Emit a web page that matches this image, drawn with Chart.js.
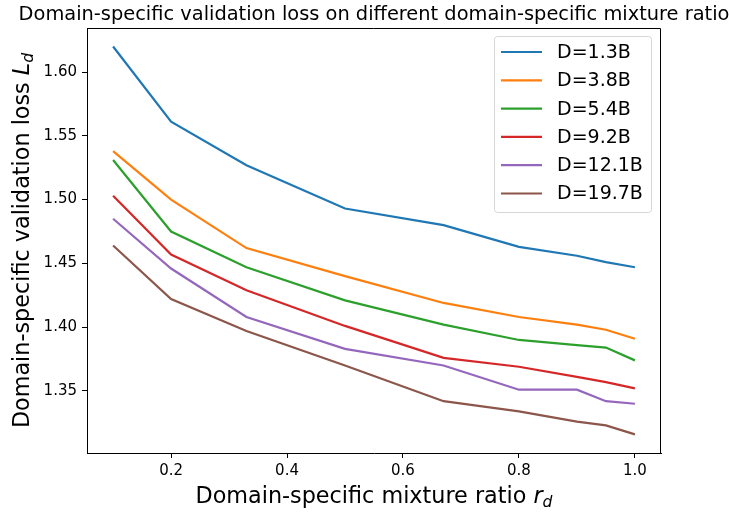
<!DOCTYPE html>
<html>
<head>
<meta charset="utf-8">
<script src="https://cdn.jsdelivr.net/npm/chart.js@4.4.1/dist/chart.umd.min.js"></script>
<style>
  html, body { margin: 0; padding: 0; background: #fff; }
  #wrap { width: 729px; height: 514px; position: relative; }
</style>
</head>
<body>
<div id="wrap"><canvas id="lossChart"></canvas></div>
<script>
// mixture ratios on the x axis
const ratios = [0.1, 0.2, 0.33, 0.5, 0.67, 0.8, 0.9, 0.95, 1.0];

const seriesLabels = ['D=1.3B', 'D=3.8B', 'D=5.4B', 'D=9.2B', 'D=12.1B', 'D=19.7B'];
const seriesColors = ['#1f77b4', '#ff7f0e', '#2ca02c', '#d62728', '#9467bd', '#8c564b'];

// validation loss per token budget
const loss1_3B  = [1.620, 1.561, 1.527, 1.493, 1.480, 1.463, 1.456, 1.451, 1.447];
const loss3_8B  = [1.538, 1.500, 1.462, 1.440, 1.419, 1.408, 1.402, 1.398, 1.391];
const loss5_4B  = [1.531, 1.475, 1.447, 1.421, 1.402, 1.390, 1.386, 1.384, 1.374];
const loss9_2B  = [1.503, 1.457, 1.429, 1.401, 1.376, 1.369, 1.361, 1.357, 1.352];
const loss12_1B = [1.485, 1.446, 1.408, 1.383, 1.370, 1.351, 1.351, 1.342, 1.340];
const loss19_7B = [1.464, 1.422, 1.397, 1.370, 1.342, 1.334, 1.326, 1.323, 1.316];

const xTicks = [0.2, 0.4, 0.6, 0.8, 1.0];
const xTickLabels = ['0.2', '0.4', '0.6', '0.8', '1.0'];
const yTicks = [1.35, 1.40, 1.45, 1.50, 1.55, 1.60];
const yTickLabels = ['1.35', '1.40', '1.45', '1.50', '1.55', '1.60'];

const FONT = '"DejaVu Sans", sans-serif';
const allLoss = [loss1_3B, loss3_8B, loss5_4B, loss9_2B, loss12_1B, loss19_7B];

const datasets = allLoss.map((vals, i) => ({
  label: seriesLabels[i],
  data: ratios.map((r, j) => ({ x: r, y: vals[j] })),
  borderColor: seriesColors[i],
  backgroundColor: seriesColors[i],
  borderWidth: 2.2,
  pointRadius: 0,
  tension: 0,
  fill: false
}));

// draws text pieces (normal / italic / subscript) in one run, centred
function drawParts(ctx, parts, cx, baseY) {
  let total = 0;
  parts.forEach(p => { ctx.font = p.font; total += ctx.measureText(p.text).width; });
  let x = cx - total / 2;
  parts.forEach(p => {
    ctx.font = p.font;
    ctx.fillText(p.text, x, baseY + (p.dy || 0));
    x += ctx.measureText(p.text).width;
  });
}

const decorPlugin = {
  id: 'decor',
  afterDraw(chart) {
    const ctx = chart.ctx;
    const a = chart.chartArea;
    ctx.save();

    // top and right spines (left/bottom come from the axis borders)
    const top = Math.round(a.top) + 0.5;
    const right = Math.round(a.right) - 0.5;
    ctx.strokeStyle = '#000';
    ctx.lineWidth = 1;
    ctx.setLineDash([]);
    ctx.beginPath();
    ctx.moveTo(a.left, top);
    ctx.lineTo(right, top);
    ctx.lineTo(right, a.bottom + 0.5);
    ctx.stroke();

    ctx.fillStyle = '#000';
    ctx.textBaseline = 'alphabetic';
    ctx.textAlign = 'left';

    // title
    drawParts(ctx, [{ text: 'Domain-specific validation loss on different domain-specific mixture ratio', font: '19.4px ' + FONT }],
      (a.left + a.right) / 2, 20);

    // x title
    drawParts(ctx, [
      { text: 'Domain-specific mixture ratio ', font: '22.3px ' + FONT },
      { text: 'r', font: 'italic 22.3px ' + FONT },
      { text: 'd', font: 'italic 15.6px ' + FONT, dy: 4 }
    ], (a.left + a.right) / 2, 503);

    // y title
    ctx.save();
    ctx.translate(29, (a.top + a.bottom) / 2);
    ctx.rotate(-Math.PI / 2);
    drawParts(ctx, [
      { text: 'Domain-specific validation loss ', font: '22.3px ' + FONT },
      { text: 'L', font: 'italic 22.3px ' + FONT },
      { text: 'd', font: 'italic 15.6px ' + FONT, dy: 4 }
    ], 0, 0);
    ctx.restore();

    // legend box
    const lx = 494, ly = 36, lw = 157, lh = 176;
    ctx.beginPath();
    ctx.roundRect(lx + 0.5, ly + 0.5, lw, lh, 3);
    ctx.fillStyle = 'rgba(255,255,255,0.8)';
    ctx.fill();
    ctx.strokeStyle = '#d6d6d6';
    ctx.lineWidth = 1;
    ctx.stroke();

    ctx.font = '19px ' + FONT;
    ctx.textBaseline = 'middle';
    chart.data.datasets.forEach((ds, i) => {
      const y = 52 + i * 28.3;
      ctx.strokeStyle = ds.borderColor;
      ctx.lineWidth = 2.2;
      ctx.beginPath();
      ctx.moveTo(501, y);
      ctx.lineTo(542, y);
      ctx.stroke();
      ctx.fillStyle = '#000';
      ctx.fillText(ds.label, 557, y + 1);
    });
    ctx.restore();
  }
};

new Chart(document.getElementById('lossChart'), {
  type: 'line',
  data: { datasets: datasets },
  plugins: [decorPlugin],
  options: {
    responsive: true,
    maintainAspectRatio: false,
    animation: false,
    layout: { padding: { left: 0, right: 68, top: 28, bottom: 0 } },
    plugins: {
      legend: { display: false },
      title: { display: false },
      tooltip: { enabled: false }
    },
    scales: {
      x: {
        type: 'linear',
        min: 0.055,
        max: 1.045,
        afterBuildTicks: s => { s.ticks = xTicks.map(v => ({ value: v })); },
        afterFit: s => { s.height = 61; },
        ticks: {
          callback: (v, i) => xTickLabels[i],
          color: '#000',
          font: { family: FONT, size: 15 },
          padding: 4,
          maxRotation: 0,
          autoSkip: false
        },
        grid: { display: true, drawOnChartArea: false, drawTicks: true, tickLength: 5, color: '#000' },
        border: { display: true, color: '#000' }
      },
      y: {
        type: 'linear',
        min: 1.3014,
        max: 1.6345,
        afterBuildTicks: s => { s.ticks = yTicks.map(v => ({ value: v })); },
        afterFit: s => { s.width = 87; },
        ticks: {
          callback: (v, i) => yTickLabels[i],
          color: '#000',
          font: { family: FONT, size: 15 },
          padding: 5,
          autoSkip: false
        },
        grid: { display: true, drawOnChartArea: false, drawTicks: true, tickLength: 5, color: '#000' },
        border: { display: true, color: '#000' }
      }
    }
  }
});
</script>
</body>
</html>
